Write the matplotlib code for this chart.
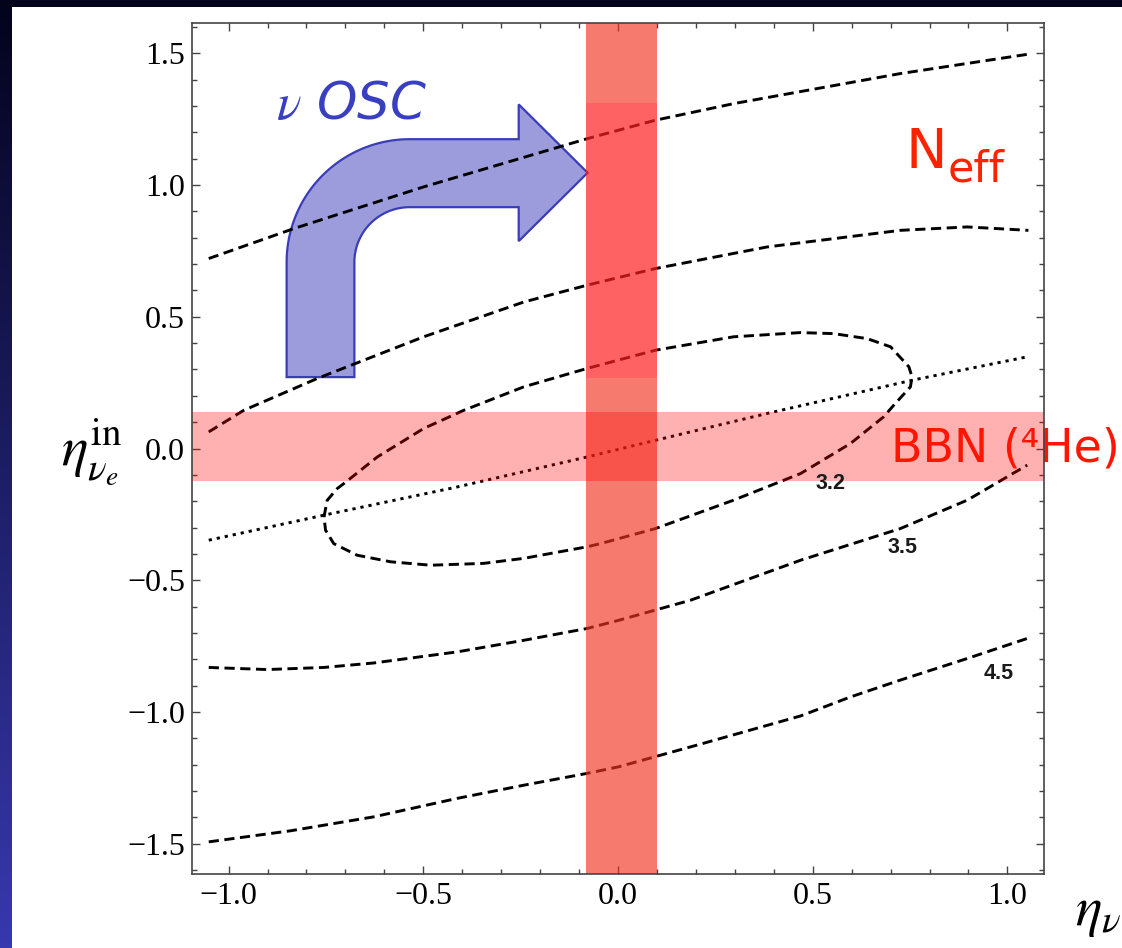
import numpy as np
import matplotlib
matplotlib.use("Agg")
import matplotlib.pyplot as plt
from matplotlib.patches import Rectangle, PathPatch
from matplotlib.path import Path
from matplotlib.ticker import MultipleLocator

plt.rcParams["mathtext.fontset"] = "stix"

# ---- N_eff contours in the (eta_nu_x, eta_nu_e^in) plane ----
# N_eff = 4.5, upper branch
n45_upper_x = [-1.051, -0.832, -0.499, -0.079, 0.096, 0.297, 0.725, 1.051]
n45_upper_y = [0.721, 0.835, 0.993, 1.176, 1.246, 1.309, 1.423, 1.496]
# N_eff = 3.5, upper branch
n35_upper_x = [-1.051, -0.961, -0.772, -0.499, -0.242, -0.079, 0.096, 0.383, 0.725, 0.897, 1.054]
n35_upper_y = [0.063, 0.145, 0.266, 0.424, 0.556, 0.620, 0.683, 0.765, 0.828, 0.841, 0.828]
# N_eff = 3.2, closed contour
n32_x = [-0.755, -0.747, -0.721, -0.704, -0.618, -0.499, -0.396, -0.242, -0.079, 0.096,
         0.297, 0.469, 0.554, 0.640, 0.700, 0.747, 0.755, 0.751, 0.708, 0.682, 0.597, 0.469,
         0.297, 0.096, -0.045, -0.079, -0.242, -0.345, -0.481, -0.584, -0.670, -0.730,
         -0.751, -0.755]
n32_y = [-0.260, -0.197, -0.152, -0.133, -0.032, 0.076, 0.145, 0.234, 0.304, 0.373,
         0.424, 0.440, 0.436, 0.417, 0.386, 0.310, 0.272, 0.234, 0.164, 0.120, 0.019, -0.095,
         -0.196, -0.304, -0.361, -0.373, -0.417, -0.436, -0.443, -0.430, -0.405, -0.361,
         -0.310, -0.260]
# N_eff = 3.5, lower branch
n35_lower_x = [-1.051, -0.901, -0.755, -0.627, -0.413, -0.242, -0.079, 0.002, 0.186, 0.469, 0.725, 0.897, 1.051]
n35_lower_y = [-0.831, -0.839, -0.831, -0.814, -0.772, -0.728, -0.683, -0.652, -0.576, -0.424, -0.304, -0.196, -0.063]
# N_eff = 4.5, lower branch
n45_lower_x = [-1.051, -0.841, -0.627, -0.413, -0.242, -0.079, 0.002, 0.212, 0.469, 0.597, 0.725, 0.897, 1.051]
n45_lower_y = [-1.493, -1.451, -1.398, -1.328, -1.278, -1.233, -1.208, -1.122, -1.015, -0.943, -0.879, -0.797, -0.721]
# minimum of N_eff (dotted)
ridge_x = [-1.051, -0.755, -0.413, -0.079, 0.096, 0.383, 0.755, 1.051]
ridge_y = [-0.348, -0.253, -0.146, -0.032, 0.031, 0.133, 0.259, 0.348]

# contour labels
level_labels = ["3.2", "3.5", "4.5"]
level_label_x = [0.546, 0.731, 0.978]
level_label_y = [-0.131, -0.376, -0.854]

# ---- allowed bands ----
osc_band_x = (-0.081, 0.099)     # flavour equilibrium after oscillations
neff_band_y = (0.268, 1.310)     # N_eff bound
bbn_band_y = (-0.123, 0.139)     # BBN (4He)

xlim = (-1.094, 1.094)
ylim = (-1.615, 1.615)

W, H = 1122, 948
fig = plt.figure(figsize=(W / 100, H / 100), dpi=100)

# slide background: dark navy gradient with white panel
bg = fig.add_axes([0, 0, 1, 1], zorder=-10)
t = np.linspace(0, 1, 256)[:, None, None]
c_top = np.array([3, 3, 28]) / 255
c_bot = np.array([56, 56, 175]) / 255
grad = c_top + (c_bot - c_top) * t
bg.imshow(np.repeat(grad, 2, axis=1), aspect="auto", extent=[0, 1, 0, 1], origin="upper")
bg.add_patch(Rectangle((12 / W, 0), 1, (H - 7) / H, transform=bg.transAxes,
                       facecolor="white", edgecolor="none"))
bg.set_xlim(0, 1)
bg.set_ylim(0, 1)
bg.axis("off")

ax = fig.add_axes([192 / W, (H - 874) / H, (1044 - 192) / W, (874 - 23) / H])
ax.set_facecolor("none")
ax.set_xlim(*xlim)
ax.set_ylim(*ylim)

dash = (0, (3.5, 1.9))
lw = 2.1
for xs, ys in [(n45_upper_x, n45_upper_y), (n35_upper_x, n35_upper_y), (n32_x, n32_y),
               (n35_lower_x, n35_lower_y), (n45_lower_x, n45_lower_y)]:
    ax.plot(xs, ys, color="black", lw=lw, linestyle=dash, zorder=2)
ax.plot(ridge_x, ridge_y, color="black", lw=lw, linestyle=(0, (1.1, 1.7)), zorder=2)

for lab, lx, ly in zip(level_labels, level_label_x, level_label_y):
    ax.text(lx, ly, lab, ha="center", va="center", fontsize=15.5, fontweight="bold",
            family="Liberation Sans", color="#1a1a1a", zorder=6)

# vertical band: light parts outside the N_eff bound, stronger inside
salmon = (242 / 255, 51 / 255, 31 / 255)
ax.fill_between(osc_band_x, ylim[0], neff_band_y[0], color=salmon, alpha=0.65, lw=0, zorder=3)
ax.fill_between(osc_band_x, neff_band_y[1], ylim[1], color=salmon, alpha=0.65, lw=0, zorder=3)
ax.fill_between(osc_band_x, neff_band_y[0], neff_band_y[1], color=(1, 0.12, 0.12), alpha=0.7,
                lw=0, zorder=3)
# horizontal BBN band
ax.axhspan(*bbn_band_y, color=(1, 0, 0), alpha=0.31, lw=0, zorder=3.5)

# bent "oscillation" arrow
stem_l, stem_r, base_y = -0.851, -0.677, 0.271
cx, cy = -0.535, 0.707
bar_lo, bar_hi = 0.916, 1.174
head_x, head_lo, head_hi = -0.255, 0.787, 1.306
tip_x = -0.078
tip_y = 0.5 * (head_lo + head_hi)
th = np.linspace(np.pi, np.pi / 2, 40)
outer = np.column_stack([cx + (cx - stem_l) * np.cos(th), cy + (bar_hi - cy) * np.sin(th)])
inner = np.column_stack([cx + (cx - stem_r) * np.cos(th[::-1]), cy + (bar_lo - cy) * np.sin(th[::-1])])
verts = np.vstack([[[stem_l, base_y]], outer,
                   [[head_x, bar_hi], [head_x, head_hi], [tip_x, tip_y],
                    [head_x, head_lo], [head_x, bar_lo]],
                   inner, [[stem_r, base_y], [stem_l, base_y]]])
codes = [Path.MOVETO] + [Path.LINETO] * (len(verts) - 2) + [Path.CLOSEPOLY]
ax.add_patch(PathPatch(Path(verts, codes), facecolor="#9C9CDC", edgecolor="#3A3DB8",
                       lw=1.6, zorder=1.5))

# annotations
ax.text(-0.879, 1.250, r"$\nu$ OSC", fontsize=37, color="#3940C0", style="italic",
        family="DejaVu Sans", ha="left", va="baseline", zorder=6)
ax.text(0.738, 1.064, "N", fontsize=40, color="#FF2200", family="DejaVu Sans",
        ha="left", va="baseline", zorder=6)
ax.text(0.846, 1.012, "eff", fontsize=31, color="#FF2200", family="DejaVu Sans",
        ha="left", va="baseline", zorder=6)
ax.text(0.700, -0.051, "BBN (\u2074He)", fontsize=33, color="#FF1500", family="DejaVu Sans",
        ha="left", va="baseline", zorder=6, clip_on=False)

# axes styling
ax.xaxis.set_major_locator(MultipleLocator(0.5))
ax.xaxis.set_minor_locator(MultipleLocator(0.1))
ax.yaxis.set_major_locator(MultipleLocator(0.5))
ax.yaxis.set_minor_locator(MultipleLocator(0.1))
ax.tick_params(which="both", direction="in", top=True, right=True, color="#444444", width=1.0)
ax.tick_params(which="major", length=6, labelsize=23)
ax.tick_params(which="minor", length=3.5)
ax.tick_params(axis="x", pad=6)
ax.tick_params(axis="y", pad=5)
for lab in ax.get_xticklabels() + ax.get_yticklabels():
    lab.set_family("Liberation Serif")
for sp in ax.spines.values():
    sp.set_color("#444444")
    sp.set_linewidth(1.2)
    sp.set_zorder(7)

fig.text(92 / W, 1 - 452 / H, r"$\eta^{\rm in}_{\nu_e}$", ha="center", va="center", fontsize=40)
fig.text(1075 / W, 1 - 912 / H, r"$\eta_{\nu}$", ha="left", va="center", fontsize=40)

fig.savefig("out.png", dpi=100)
